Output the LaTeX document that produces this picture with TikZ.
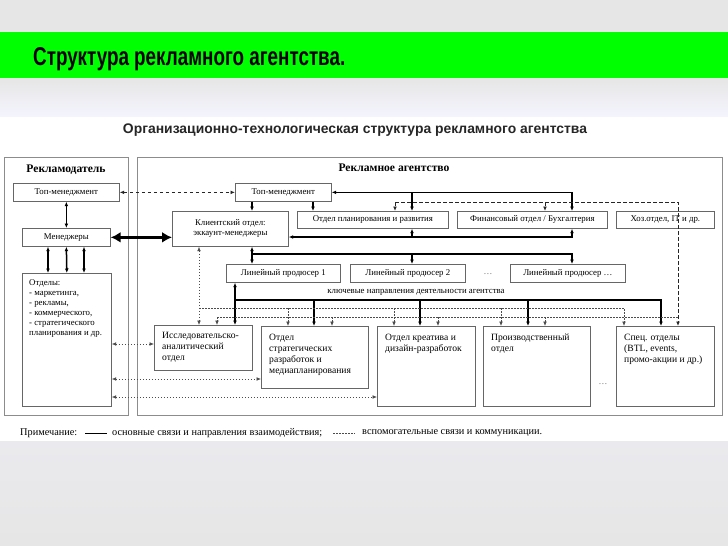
\documentclass[tikz,border=0pt]{standalone}
\usepackage{fontspec}
\setmainfont{Liberation Serif}
\newfontfamily\hsans{Liberation Sans}
\usetikzlibrary{arrows.meta,calc}
\newcommand\dgsmall{\fontsize{8.8}{10}\selectfont}
\newcommand\dgbig{\fontsize{9.6}{11}\selectfont}
\newcommand\dglegend{\fontsize{10.3}{11}\selectfont}
\definecolor{bggray}{HTML}{E6E6E6}
\definecolor{bgbottom}{HTML}{EAEAEE}
\definecolor{titlegreen}{HTML}{00FF00}
\begin{document}
\begin{tikzpicture}[x=1pt,y=-1pt,
  >={Latex[length=4.5pt,width=3.8pt]},
  box/.style={draw=black!60, line width=0.7pt, fill=white, inner sep=0pt, anchor=north west, font=\dgsmall, align=center},
  outerbox/.style={draw=black!45, line width=0.9pt, inner sep=0pt, anchor=north west},
  txt/.style={inner sep=0pt, align=left, anchor=north west, font=\dgbig},
  mainln/.style={line width=1.5pt, black},
  dashln/.style={line width=0.9pt, dash pattern=on 3.5pt off 2.5pt, black!85},
  dotln/.style={line width=0.7pt, dash pattern=on 1.5pt off 1.5pt, black!70},
]
\useasboundingbox (0,0) rectangle (728,546);
% background
\fill[bggray] (0,0) rectangle (728,546);
\fill[titlegreen] (0,32) rectangle (728,78);
\shade[top color=bggray, bottom color=white!96!blue] (0,78) rectangle (728,118);
\fill[white] (0,117) rectangle (728,441);
\shade[top color=bgbottom, bottom color=bggray] (0,441) rectangle (728,546);
\node[anchor=base west, inner sep=0pt] (title) at (33,65)
  {\resizebox{312pt}{18pt}{\hsans\bfseries Структура рекламного агентства.}};

% heading
\node[inner sep=0pt, text=black!85] (head) at (355,130)
  {\resizebox{464pt}{!}{\hsans\bfseries Организационно-технологическая структура рекламного агентства}};

% outer boxes
\node[outerbox, minimum width=124pt, minimum height=258pt] (adv) at (4,157) {};
\node[outerbox, minimum width=585pt, minimum height=258pt] (ag) at (137,157) {};
\node[font=\fontsize{11.6}{12}\selectfont\bfseries] (advt) at (66,170) {Рекламодатель};
\node[font=\fontsize{11.6}{12}\selectfont\bfseries] (agt) at (394,168) {Рекламное агентство};

% advertiser boxes
\node[box, minimum width=106pt, minimum height=18pt] (lt) at (13,183) {Топ-менеджмент};
\node[box, minimum width=88pt, minimum height=18pt] (lm) at (22,228) {Менеджеры};
\node[box, minimum width=89pt, minimum height=133pt] (lo) at (22,273) {};
\node[txt, font=\dgsmall] (lotx) at ($(lo.north west)+(7,6)$)
  {Отделы:\\- маркетинга,\\- рекламы,\\- коммерческого,\\- стратегического\\планирования и др.};

% agency boxes
\node[box, minimum width=96pt, minimum height=18pt] (atm) at (235,183) {Топ-менеджмент};
\node[box, minimum width=116pt, minimum height=35pt] (kl) at (172,211) {Клиентский отдел:\\эккаунт-менеджеры};
\node[box, minimum width=151pt, minimum height=17pt] (pl) at (297,211) {Отдел планирования и развития};
\node[box, minimum width=150pt, minimum height=17pt] (fin) at (457,211) {Финансовый отдел / Бухгалтерия};
\node[box, minimum width=98pt, minimum height=17pt] (hoz) at (616,211) {Хоз.отдел, IT и др.};
\node[box, minimum width=114pt, minimum height=18pt] (lp1) at (226,264) {Линейный продюсер 1};
\node[box, minimum width=115pt, minimum height=18pt] (lp2) at (350,264) {Линейный продюсер 2};
\node[box, minimum width=115pt, minimum height=18pt] (lpn) at (510,264) {Линейный продюсер …};
\node[font=\dgsmall, text=black!60] (dots1) at (488,274) {…};
\node[font=\dgsmall] (key) at (416,292) {ключевые направления деятельности агентства};

\node[box, minimum width=98pt, minimum height=45pt] (ia) at (154,325) {};
\node[box, minimum width=107pt, minimum height=62pt] (st) at (261,326) {};
\node[box, minimum width=98pt, minimum height=80pt] (kr) at (377,326) {};
\node[box, minimum width=107pt, minimum height=80pt] (pr) at (483,326) {};
\node[box, minimum width=98pt, minimum height=80pt] (sp) at (616,326) {};
\node[txt] (iatx) at ($(ia.north west)+(8,7.5)$) {Исследовательско-\\аналитический\\отдел};
\node[txt] (sttx) at ($(st.north west)+(8,7.5)$) {Отдел\\стратегических\\разработок и\\медиапланирования};
\node[txt] (krtx) at ($(kr.north west)+(8,7.5)$) {Отдел креатива и\\дизайн-разработок};
\node[txt] (prtx) at ($(pr.north west)+(8,7.5)$) {Производственный\\отдел};
\node[txt] (sptx) at ($(sp.north west)+(8,7.5)$) {Спец. отделы\\(BTL, events,\\промо-акции и др.)};
\node[font=\dgsmall, text=black!60] (dots2) at (603,384) {…};

% reference coordinates
\foreach \v in {48,84,199,217,235,252,288,313,314,332,394,395,412,420,438,501,528,545,572,624,661,678}
  {\coordinate (X\v) at (\v,0);}
\foreach \v in {202,237,254,300,308,317,344,379,397}
  {\coordinate (Y\v) at (0,\v);}

% advertiser connectors
\draw[mainln,<->] (lt.south) -- (lm.north);
\draw[mainln,<->] (lm.south -| X48) -- (lo.north -| X48);
\draw[mainln,<->] (lm.south) -- (lo.north);
\draw[mainln,<->] (lm.south -| X84) -- (lo.north -| X84);
\draw[dashln,<->] (lt.east) -- (atm.west);
\draw[line width=3.6pt, {Latex[length=10pt,width=11pt]}-{Latex[length=10pt,width=11pt]}] (lm.east) -- (lm.east -| kl.west);

% agency connectors
\draw[mainln,->] (atm.south -| X252) -- (kl.north -| X252);
\draw[mainln,->] (atm.south -| X313) -- (pl.north -| X313);
\draw[mainln,<->] (atm.east) -| (fin.north -| X572);
\draw[mainln,->] (atm.east -| X412) -- (pl.north -| X412);
\draw[dashln,->] (X395 |- Y202) -- (pl.north -| X395);
\draw[dashln,->] (X395 |- Y202) -| (sp.north -| X678);
\draw[dashln,->] (X545 |- Y202) -- (fin.north -| X545);
\draw[mainln,<->] (kl.east |- Y237) -| (fin.south -| X572);
\draw[mainln,->] (X412 |- Y237) -- (pl.south -| X412);
\draw[mainln,<->] (kl.south -| X252) -- (lp1.north -| X252);
\draw[mainln,->] (X252 |- Y254) -| (lpn.north -| X572);
\draw[mainln,->] (X412 |- Y254) -- (lp2.north -| X412);
\draw[mainln,<->] (lp1.south -| X235) -- (ia.north -| X235);
\draw[mainln,->] (X235 |- Y300) -| (sp.north -| X661);
\draw[mainln,->] (X314 |- Y300) -- (st.north -| X314);
\draw[mainln,->] (X420 |- Y300) -- (kr.north -| X420);
\draw[mainln,->] (X528 |- Y300) -- (pr.north -| X528);

\draw[dotln,<->] (kl.south -| X199) -- (ia.north -| X199);
\draw[dotln,->] (X199 |- Y308) -| (sp.north -| X624);
\draw[dotln,->] (X288 |- Y308) -- (st.north -| X288);
\draw[dotln,->] (X394 |- Y308) -- (kr.north -| X394);
\draw[dotln,->] (X501 |- Y308) -- (pr.north -| X501);
\draw[dotln] (X217 |- Y317) -- (X678 |- Y317);
\draw[dotln,->] (X217 |- Y317) -- (ia.north -| X217);
\draw[dotln,->] (X332 |- Y317) -- (st.north -| X332);
\draw[dotln,->] (X438 |- Y317) -- (kr.north -| X438);
\draw[dotln,->] (X545 |- Y317) -- (pr.north -| X545);

\draw[dotln,<->] (lo.east |- Y344) -- (ia.west |- Y344);
\draw[dotln,<->] (lo.east |- Y379) -- (st.west |- Y379);
\draw[dotln,<->] (lo.east |- Y397) -- (kr.west |- Y397);

% legend
\node[anchor=west, inner sep=0pt, font=\dglegend] (n1) at (20,433) {Примечание:};
\coordinate (L1a) at (85,433);
\coordinate (L1b) at (107,433);
\draw[line width=0.8pt] (L1a) -- (L1b);
\node[anchor=west, inner sep=0pt, font=\dglegend] (n2) at (112,433) {основные связи и направления взаимодействия;};
\coordinate (L2a) at (333,433);
\coordinate (L2b) at (355,433);
\draw[dotln] (L2a) -- (L2b);
\node[anchor=west, inner sep=0pt, font=\dglegend] (n3) at (362,433) {вспомогательные связи и коммуникации.};
\end{tikzpicture}
\end{document}
